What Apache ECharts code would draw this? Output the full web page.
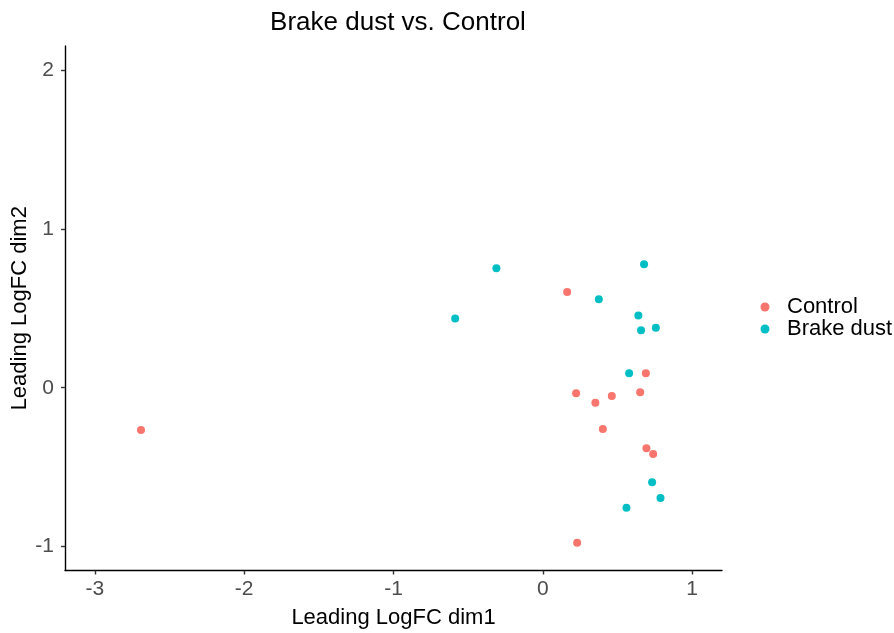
<!DOCTYPE html>
<html>
<head>
<meta charset="utf-8">
<script src="https://cdn.jsdelivr.net/npm/echarts@6/dist/echarts.min.js"></script>
<style>
  html, body { margin: 0; padding: 0; background: #fff; }
  #chart { width: 894px; height: 633px; }
</style>
</head>
<body>
<div id="chart"></div>
<script>
// MDS sample coordinates (leading logFC dimensions), per group
const groups = ['Control', 'Brake dust'];
const colors = ['#F8766D', '#00BFC4'];

const controlDim1 = [0.163, 0.690, 0.223, 0.352, 0.462, 0.652, 0.402, 0.694, 0.739, 0.230, -2.691];
const controlDim2 = [0.603, 0.091, -0.035, -0.094, -0.052, -0.028, -0.259, -0.381, -0.417, -0.975, -0.266];

const brakeDim1 = [0.678, 0.375, 0.640, 0.658, 0.757, 0.578, 0.732, 0.788, 0.560, -0.311, -0.587];
const brakeDim2 = [0.777, 0.557, 0.454, 0.362, 0.378, 0.091, -0.595, -0.694, -0.755, 0.752, 0.435];

const xTicks = [-3, -2, -1, 0, 1];
const yTicks = [-1, 0, 1, 2];

const zip = (a, b) => a.map((v, i) => [v, b[i]]);
const seriesData = [zip(controlDim1, controlDim2), zip(brakeDim1, brakeDim2)];

const font = 'Liberation Sans, Arial, sans-serif';
const chart = echarts.init(document.getElementById('chart'));

const axisCommon = {
  axisLine: { show: true, onZero: false, lineStyle: { color: '#000', width: 1.4 } },
  axisTick: { show: true, length: 4, lineStyle: { color: '#333', width: 1.4 } },
  splitLine: { show: false },
  axisLabel: { color: '#4D4D4D', fontSize: 21, fontFamily: font },
  nameLocation: 'middle',
  nameMoveOverlap: false,
  nameTextStyle: { color: '#000', fontSize: 22, fontFamily: font }
};

chart.setOption({
  backgroundColor: '#fff',
  animation: false,
  title: {
    text: 'Brake dust vs. Control',
    left: 393, top: 5, textAlign: 'center',
    textStyle: { color: '#000', fontSize: 26, fontWeight: 'normal', fontFamily: font }
  },
  legend: {
    orient: 'vertical',
    left: 755.5, top: 291,
    itemWidth: 9, itemHeight: 9, itemGap: 0,
    icon: 'circle',
    data: groups,
    textStyle: { color: '#000', fontSize: 22, fontFamily: font, lineHeight: 21, padding: [0, 0, 0, 12.5] }
  },
  grid: { left: 65, right: 172, top: 46, bottom: 62.5, containLabel: false, outerBoundsMode: 'none' },
  xAxis: Object.assign({}, axisCommon, {
    type: 'value', min: -3.2, max: 1.2,
    name: 'Leading LogFC dim1', nameGap: 36,
    axisLabel: Object.assign({}, axisCommon.axisLabel, {
      margin: 8,
      customValues: xTicks,
      formatter: v => String(Math.round(v))
    }),
    axisTick: Object.assign({}, axisCommon.axisTick, { customValues: xTicks })
  }),
  yAxis: Object.assign({}, axisCommon, {
    type: 'value', min: -1.15, max: 2.15,
    name: 'Leading LogFC dim2', nameGap: 34,
    axisLabel: Object.assign({}, axisCommon.axisLabel, {
      margin: 11,
      customValues: yTicks,
      formatter: v => String(Math.round(v))
    }),
    axisTick: Object.assign({}, axisCommon.axisTick, { customValues: yTicks })
  }),
  series: groups.map((g, i) => ({
    name: g,
    type: 'scatter',
    symbolSize: 8,
    itemStyle: { color: colors[i], opacity: 1 },
    data: seriesData[i]
  }))
});
</script>
</body>
</html>
